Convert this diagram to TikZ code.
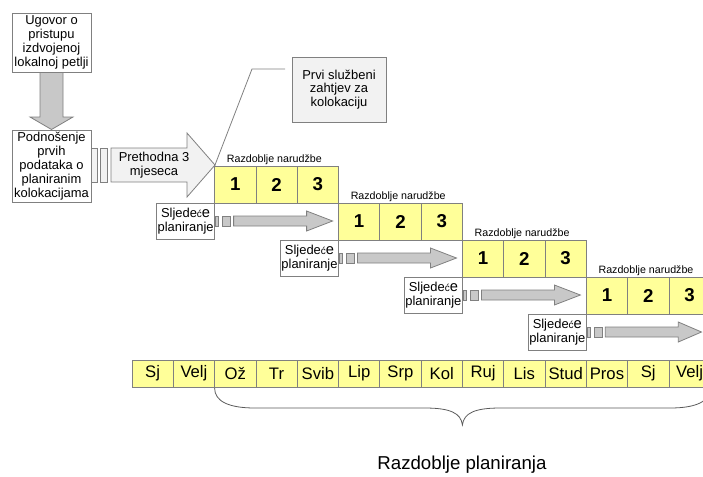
\documentclass[tikz,border=0pt]{standalone}
\usepackage{fontspec}
\setmainfont{Liberation Sans}
\usetikzlibrary{positioning}

\definecolor{linegray}{RGB}{128,128,128}
\definecolor{bracegray}{RGB}{90,90,90}
\definecolor{cellyellow}{RGB}{255,255,153}
\definecolor{arrowgray}{RGB}{200,200,200}
\definecolor{paleshade}{RGB}{242,242,242}

\tikzset{
  textbox/.style={draw=linegray, line width=0.6pt, fill=white, align=center, inner sep=0pt, outer sep=0pt,
    font=\fontsize{9.7}{10.4}\selectfont},
  ordercell/.style={draw=linegray, line width=0.6pt, fill=cellyellow, inner sep=0pt, outer sep=0pt,
    minimum width=30.975pt, minimum height=27.75pt, font=\fontsize{14}{14}\selectfont\bfseries},
  monthcell/.style={draw=linegray, line width=0.6pt, fill=cellyellow, inner sep=0pt, outer sep=0pt,
    minimum width=30.975pt, minimum height=20.25pt, font=\fontsize{12.5}{13}\selectfont},
  nextbox/.style={textbox, minimum width=43.5pt, minimum height=27pt},
  periodlabel/.style={anchor=base west, inner sep=0pt, font=\fontsize{8}{9}\selectfont},
  blockarrow/.style={draw=linegray, line width=0.6pt, fill=arrowgray},
  paleshape/.style={draw=linegray, line width=0.6pt, fill=paleshade},
}
\newcommand{\sljedece}{Sljede{\fontsize{7.5}{8}\selectfont ć}{\fontsize{11}{11}\selectfont e}\\planiranje}

\begin{document}
\begin{tikzpicture}[x=0.75pt,y=0.75pt,yscale=-1,xscale=1]
\clip (0,0) rectangle (703,476);

%Down block arrow
\draw [blockarrow] (40,72) -- (63,72) -- (63,117) -- (73,117) -- (51.5,129.5) -- (30,117) -- (40,117) -- cycle ;

% Text Node
\node [textbox, minimum width=59.25pt, minimum height=44.25pt] (ugovor) at (51.5,42.5) {Ugovor o\\pristupu\\izdvojenoj\\lokalnoj petlji};
% Text Node
\node [textbox, minimum width=59.25pt, minimum height=54pt] (podnosenje) at (51.5,166) {Podnošenje\\prvih\\podataka o\\planiranim\\kolokacijama};

%Big block arrow with stubs
\draw [paleshape] (91,148) rectangle (97,182) ;
\draw [paleshape] (100,148) rectangle (107,182) ;
\draw [paleshape] (111,148) -- (187,148) -- (187,133) -- (215,165) -- (187,197) -- (187,182) -- (111,182) -- cycle ;
\node [align=center, inner sep=0pt, font=\fontsize{9.7}{10.6}\selectfont] (prethodna) at (154,165) {Prethodna 3\\mjeseca};

% Callout
\node [textbox, fill=paleshade, minimum width=70.5pt, minimum height=48.75pt] (zahtjev) at (339,89.5) {Prvi službeni\\zahtjev za\\kolokaciju};
\coordinate (calloutend) at (285,69);
\coordinate (calloutknee) at (252,69);

%Order periods
\node [ordercell] (a1) at (235.25,184.5) {1};
\node [ordercell] (a2) at (276.55,184.5) {2};
\node [ordercell] (a3) at (317.85,184.5) {3};
\node [ordercell] (b1) at (359.15,221.5) {1};
\node [ordercell] (b2) at (400.45,221.5) {2};
\node [ordercell] (b3) at (441.75,221.5) {3};
\node [ordercell] (c1) at (483.05,258.5) {1};
\node [ordercell] (c2) at (524.35,258.5) {2};
\node [ordercell] (c3) at (565.65,258.5) {3};
\node [ordercell] (d1) at (606.95,295.5) {1};
\node [ordercell] (d2) at (648.25,295.5) {2};
\node [ordercell] (d3) at (689.55,295.5) {3};

\draw [linegray, line width=0.6pt] (calloutend) -- (calloutknee) -- (a1.north west) ;

% Text Node
\node [periodlabel] (la) at (226.6,162) {Razdoblje narudžbe};
\node [periodlabel] (lb) at (350.5,199) {Razdoblje narudžbe};
\node [periodlabel] (lc) at (474.4,236) {Razdoblje narudžbe};
\node [periodlabel] (ld) at (598.3,273) {Razdoblje narudžbe};

%Next planning arrows
\draw [blockarrow] (215.6,216) rectangle (218.6,226) ;
\draw [blockarrow] (222.6,216) rectangle (230.6,226) ;
\draw [blockarrow] (233.6,216) -- (306.6,216) -- (306.6,211) -- (332.6,221) -- (306.6,231) -- (306.6,226) -- (233.6,226) -- cycle ;
\draw [blockarrow] (339.5,253) rectangle (342.5,263) ;
\draw [blockarrow] (346.5,253) rectangle (354.5,263) ;
\draw [blockarrow] (357.5,253) -- (430.5,253) -- (430.5,248) -- (456.5,258) -- (430.5,268) -- (430.5,263) -- (357.5,263) -- cycle ;
\draw [blockarrow] (463.4,290) rectangle (466.4,300) ;
\draw [blockarrow] (470.4,290) rectangle (478.4,300) ;
\draw [blockarrow] (481.4,290) -- (554.4,290) -- (554.4,285) -- (580.4,295) -- (554.4,305) -- (554.4,300) -- (481.4,300) -- cycle ;
\draw [blockarrow] (587.3,327) rectangle (590.3,337) ;
\draw [blockarrow] (594.3,327) rectangle (602.3,337) ;
\draw [blockarrow] (605.3,327) -- (678.3,327) -- (678.3,322) -- (701.5,332) -- (678.3,342) -- (678.3,337) -- (605.3,337) -- cycle ;

% Text Node
\node [nextbox] (next1) at (185.6,221) {\sljedece};
\node [nextbox] (next2) at (309.5,258) {\sljedece};
\node [nextbox] (next3) at (433.4,295) {\sljedece};
\node [nextbox] (next4) at (557.3,332) {\sljedece};

%Months
\node [monthcell] (m1) at (152.65,373.5) {Sj};
\node [monthcell] (m2) at (193.95,373.5) {Velj};
\node [monthcell] (m3) at (235.25,373.5) {Ož};
\node [monthcell] (m4) at (276.55,373.5) {Tr};
\node [monthcell] (m5) at (317.85,373.5) {Svib};
\node [monthcell] (m6) at (359.15,373.5) {Lip};
\node [monthcell] (m7) at (400.45,373.5) {Srp};
\node [monthcell] (m8) at (441.75,373.5) {Kol};
\node [monthcell] (m9) at (483.05,373.5) {Ruj};
\node [monthcell] (m10) at (524.35,373.5) {Lis};
\node [monthcell] (m11) at (565.65,373.5) {Stud};
\node [monthcell] (m12) at (606.95,373.5) {Pros};
\node [monthcell] (m13) at (648.25,373.5) {Sj};
\node [monthcell] (m14) at (689.55,373.5) {Velj};

%Brace
\draw [bracegray, line width=0.6pt] (214.6,388) .. controls (214.6,401) and (228,408) .. (255,408) -- (425,408) .. controls (450,408) and (461,413) .. (462.4,425) .. controls (463.8,413) and (475,408) .. (500,408) -- (670,408) .. controls (697,408) and (710.2,401) .. (710.2,388) ;

% Text Node
\node [inner sep=0pt, font=\fontsize{14}{15}\selectfont] (planiranje) at (462,465) {Razdoblje planiranja};

\end{tikzpicture}
\end{document}
